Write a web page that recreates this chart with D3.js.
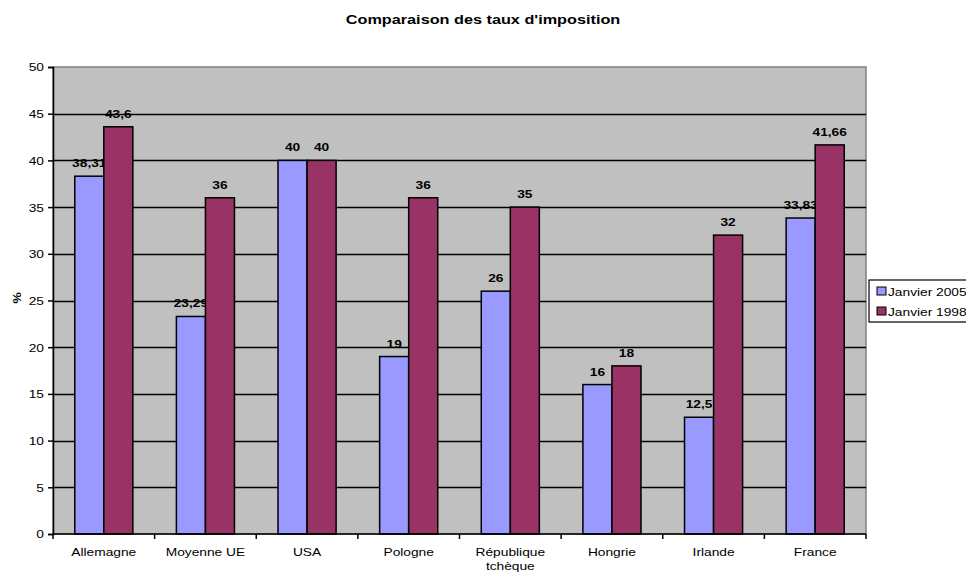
<!DOCTYPE html>
<html>
<head>
<meta charset="utf-8">
<script src="https://cdn.jsdelivr.net/npm/d3@7"></script>
<style>
  html, body { margin: 0; padding: 0; background: #fff; }
  svg { display: block; font-family: "Liberation Sans", Arial, sans-serif; }
</style>
</head>
<body>
<svg id="chart" width="966" height="574"></svg>
<script>
// Taux d'imposition par pays
const categories = [["Allemagne"], ["Moyenne UE"], ["USA"], ["Pologne"], ["République", "tchèque"], ["Hongrie"], ["Irlande"], ["France"]];
const seriesNames = ["Janvier 2005", "Janvier 1998"];
const values2005 = [38.31, 23.29, 40, 19, 26, 16, 12.5, 33.83];
const values1998 = [43.6, 36, 40, 36, 35, 18, 32, 41.66];
const yTicks = [0, 5, 10, 15, 20, 25, 30, 35, 40, 45, 50];
const colors = ["#9999FF", "#993366"];

const SX = 1.25; // horizontal text stretch
const svg = d3.select("#chart");
const plot = { left: 53, top: 67, right: 866, bottom: 534 };

const catKeys = categories.map(c => c.join(" "));
const x0 = d3.scaleBand().domain(catKeys).range([plot.left, plot.right]).padding(0);
const x1 = d3.scaleBand().domain(seriesNames).range([0, x0.bandwidth()]).paddingInner(0).paddingOuter(0.75);
const y = d3.scaleLinear().domain([0, 50]).range([plot.bottom, plot.top]);

const fmt = v => String(v).replace(".", ",");

// place a text at (x, y) with widened glyphs
function putText(parent, x, yy, str, opts = {}) {
  const t = parent.append("text")
    .attr("transform", `translate(${x},${yy}) scale(${SX},1)`)
    .attr("text-anchor", opts.anchor || "start")
    .attr("font-size", opts.size || 11)
    .attr("font-weight", opts.bold ? "bold" : "normal")
    .attr("fill", "#000");
  if (Array.isArray(str)) {
    str.forEach((s, i) => t.append("tspan").attr("x", 0).attr("dy", i === 0 ? 0 : 14).text(s));
  } else {
    t.text(str);
  }
  return t;
}

// Title
putText(svg, 483, 24, "Comparaison des taux d'imposition", { anchor: "middle", size: 13, bold: true });

// Plot background
svg.append("rect")
  .attr("x", plot.left).attr("y", plot.top)
  .attr("width", plot.right - plot.left).attr("height", plot.bottom - plot.top)
  .attr("fill", "#C0C0C0").attr("stroke", "#808080").attr("stroke-width", 1.5);

// Gridlines
svg.append("g").selectAll("line")
  .data(yTicks.filter(t => t > 0 && t < 50))
  .join("line")
  .attr("x1", plot.left).attr("x2", plot.right)
  .attr("y1", d => Math.round(y(d)) + 0.5).attr("y2", d => Math.round(y(d)) + 0.5)
  .attr("stroke", "#000").attr("stroke-width", 1.5);

// Bars and value labels, one series after the other
const seriesValues = [values2005, values1998];
seriesNames.forEach((s, si) => {
  const g = svg.append("g");
  g.selectAll("rect")
    .data(seriesValues[si]).join("rect")
    .attr("x", (d, i) => x0(catKeys[i]) + x1(s))
    .attr("y", d => y(d))
    .attr("width", x1.bandwidth())
    .attr("height", d => y(0) - y(d))
    .attr("fill", colors[si])
    .attr("stroke", "#000").attr("stroke-width", 1.5);
  const lab = svg.append("g");
  seriesValues[si].forEach((v, i) => {
    putText(lab, x0(catKeys[i]) + x1(s) + x1.bandwidth() / 2, y(v) - 9, fmt(v), { anchor: "middle", bold: true });
  });
});

// Y axis
const yAxis = d3.axisLeft(y).tickValues(yTicks).tickSize(5).tickPadding(3).tickFormat(d3.format("d"));
const gy = svg.append("g").attr("transform", `translate(${plot.left},0)`).call(yAxis);
gy.select(".domain").attr("stroke", "#000").attr("stroke-width", 1.5);
gy.selectAll(".tick line").attr("stroke", "#000").attr("stroke-width", 1.5);
gy.selectAll(".tick text")
  .attr("font-size", 11).attr("fill", "#000").attr("font-family", "Liberation Sans, Arial, sans-serif")
  .attr("x", null).attr("dy", "0.36em")
  .attr("transform", `translate(-9,0) scale(${SX},1)`);

// X axis: ticks at category boundaries
svg.append("line")
  .attr("x1", plot.left).attr("x2", plot.right)
  .attr("y1", plot.bottom).attr("y2", plot.bottom)
  .attr("stroke", "#000").attr("stroke-width", 1.5);
const boundaries = catKeys.map(k => x0(k)).concat([plot.right]);
svg.append("g").selectAll("line")
  .data(boundaries).join("line")
  .attr("x1", d => d).attr("x2", d => d)
  .attr("y1", plot.bottom).attr("y2", plot.bottom + 5)
  .attr("stroke", "#000").attr("stroke-width", 1.5);

const xl = svg.append("g");
categories.forEach((c, i) => {
  putText(xl, x0(catKeys[i]) + x0.bandwidth() / 2, 556, c, { anchor: "middle" });
});

// Y axis title
svg.append("text")
  .attr("transform", "translate(21,298) rotate(-90) scale(1.15,1)")
  .attr("text-anchor", "middle")
  .attr("font-size", 11).attr("font-weight", "bold")
  .text("%");

// Legend
const lg = svg.append("g").attr("transform", "translate(869,280)");
lg.append("rect").attr("x", 0).attr("y", 0).attr("width", 110).attr("height", 42)
  .attr("fill", "#fff").attr("stroke", "#000").attr("stroke-width", 1.2);
seriesNames.forEach((s, i) => {
  lg.append("rect").attr("x", 8).attr("y", 7 + i * 20).attr("width", 9).attr("height", 8)
    .attr("fill", colors[i]).attr("stroke", "#000").attr("stroke-width", 1);
  putText(lg, 19, 16 + i * 20, s);
});
</script>
</body>
</html>
